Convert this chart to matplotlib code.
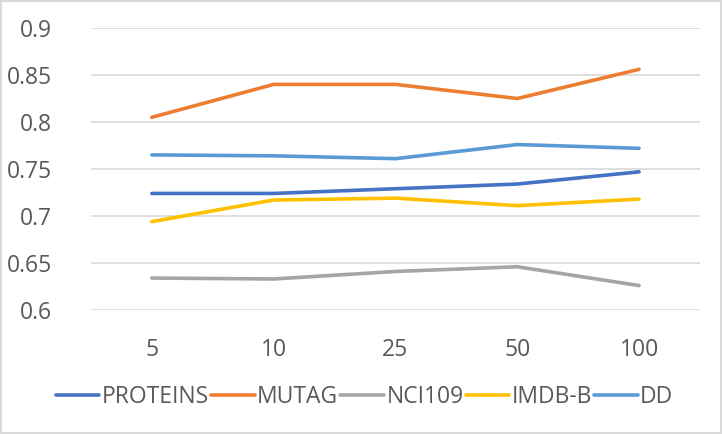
import matplotlib.pyplot as plt
from matplotlib.patches import Rectangle

# Data
categories = ['5', '10', '25', '50', '100']
proteins = [0.724, 0.724, 0.729, 0.734, 0.747]
mutag = [0.805, 0.840, 0.840, 0.825, 0.856]
nci109 = [0.634, 0.633, 0.641, 0.646, 0.626]
imdb_b = [0.694, 0.717, 0.719, 0.711, 0.718]
dd = [0.765, 0.764, 0.761, 0.776, 0.772]
y_ticks = [0.6, 0.65, 0.7, 0.75, 0.8, 0.85, 0.9]
y_labels = ['0.6', '0.65', '0.7', '0.75', '0.8', '0.85', '0.9']

series = [
    ('PROTEINS', proteins, '#4472C4'),
    ('MUTAG', mutag, '#ED7D31'),
    ('NCI109', nci109, '#A5A5A5'),
    ('IMDB-B', imdb_b, '#FFC000'),
    ('DD', dd, '#5B9BD5'),
]

plt.rcParams['font.family'] = ['Open Sans', 'DejaVu Sans']

text_color = '#595959'

fig = plt.figure(figsize=(7.22, 4.34), dpi=100)
ax = fig.add_axes([0.126, 0.2857, 0.8435, 0.6498])

x = list(range(len(categories)))
for name, vals, col in series:
    ax.plot(x, vals, color=col, linewidth=2.6, label=name, solid_capstyle='round')

ax.set_xlim(-0.5, len(categories) - 0.5)
ax.set_ylim(0.6, 0.9)
ax.set_yticks(y_ticks)
ax.set_yticklabels(y_labels)
ax.set_xticks(x)
ax.set_xticklabels(categories)
ax.tick_params(axis='both', length=0, labelsize=16.5, colors=text_color)
ax.tick_params(axis='y', pad=28)
ax.tick_params(axis='x', pad=20)
ax.grid(axis='y', color='#D9D9D9', linewidth=1.2)
ax.set_axisbelow(True)
for s in ax.spines.values():
    s.set_visible(False)

leg = fig.legend(loc='center', bbox_to_anchor=(0.505, 0.085), ncol=5, frameon=False,
                 fontsize=16.5, handlelength=1.9, handletextpad=0.1, columnspacing=0.1)
for t in leg.get_texts():
    t.set_color(text_color)

# light border around the chart area
fig.patches.append(Rectangle((0.002, 0.003), 0.996, 0.994, transform=fig.transFigure,
                             fill=False, edgecolor='#D9D9D9', linewidth=1.5))

fig.savefig('out.png', dpi=100)
